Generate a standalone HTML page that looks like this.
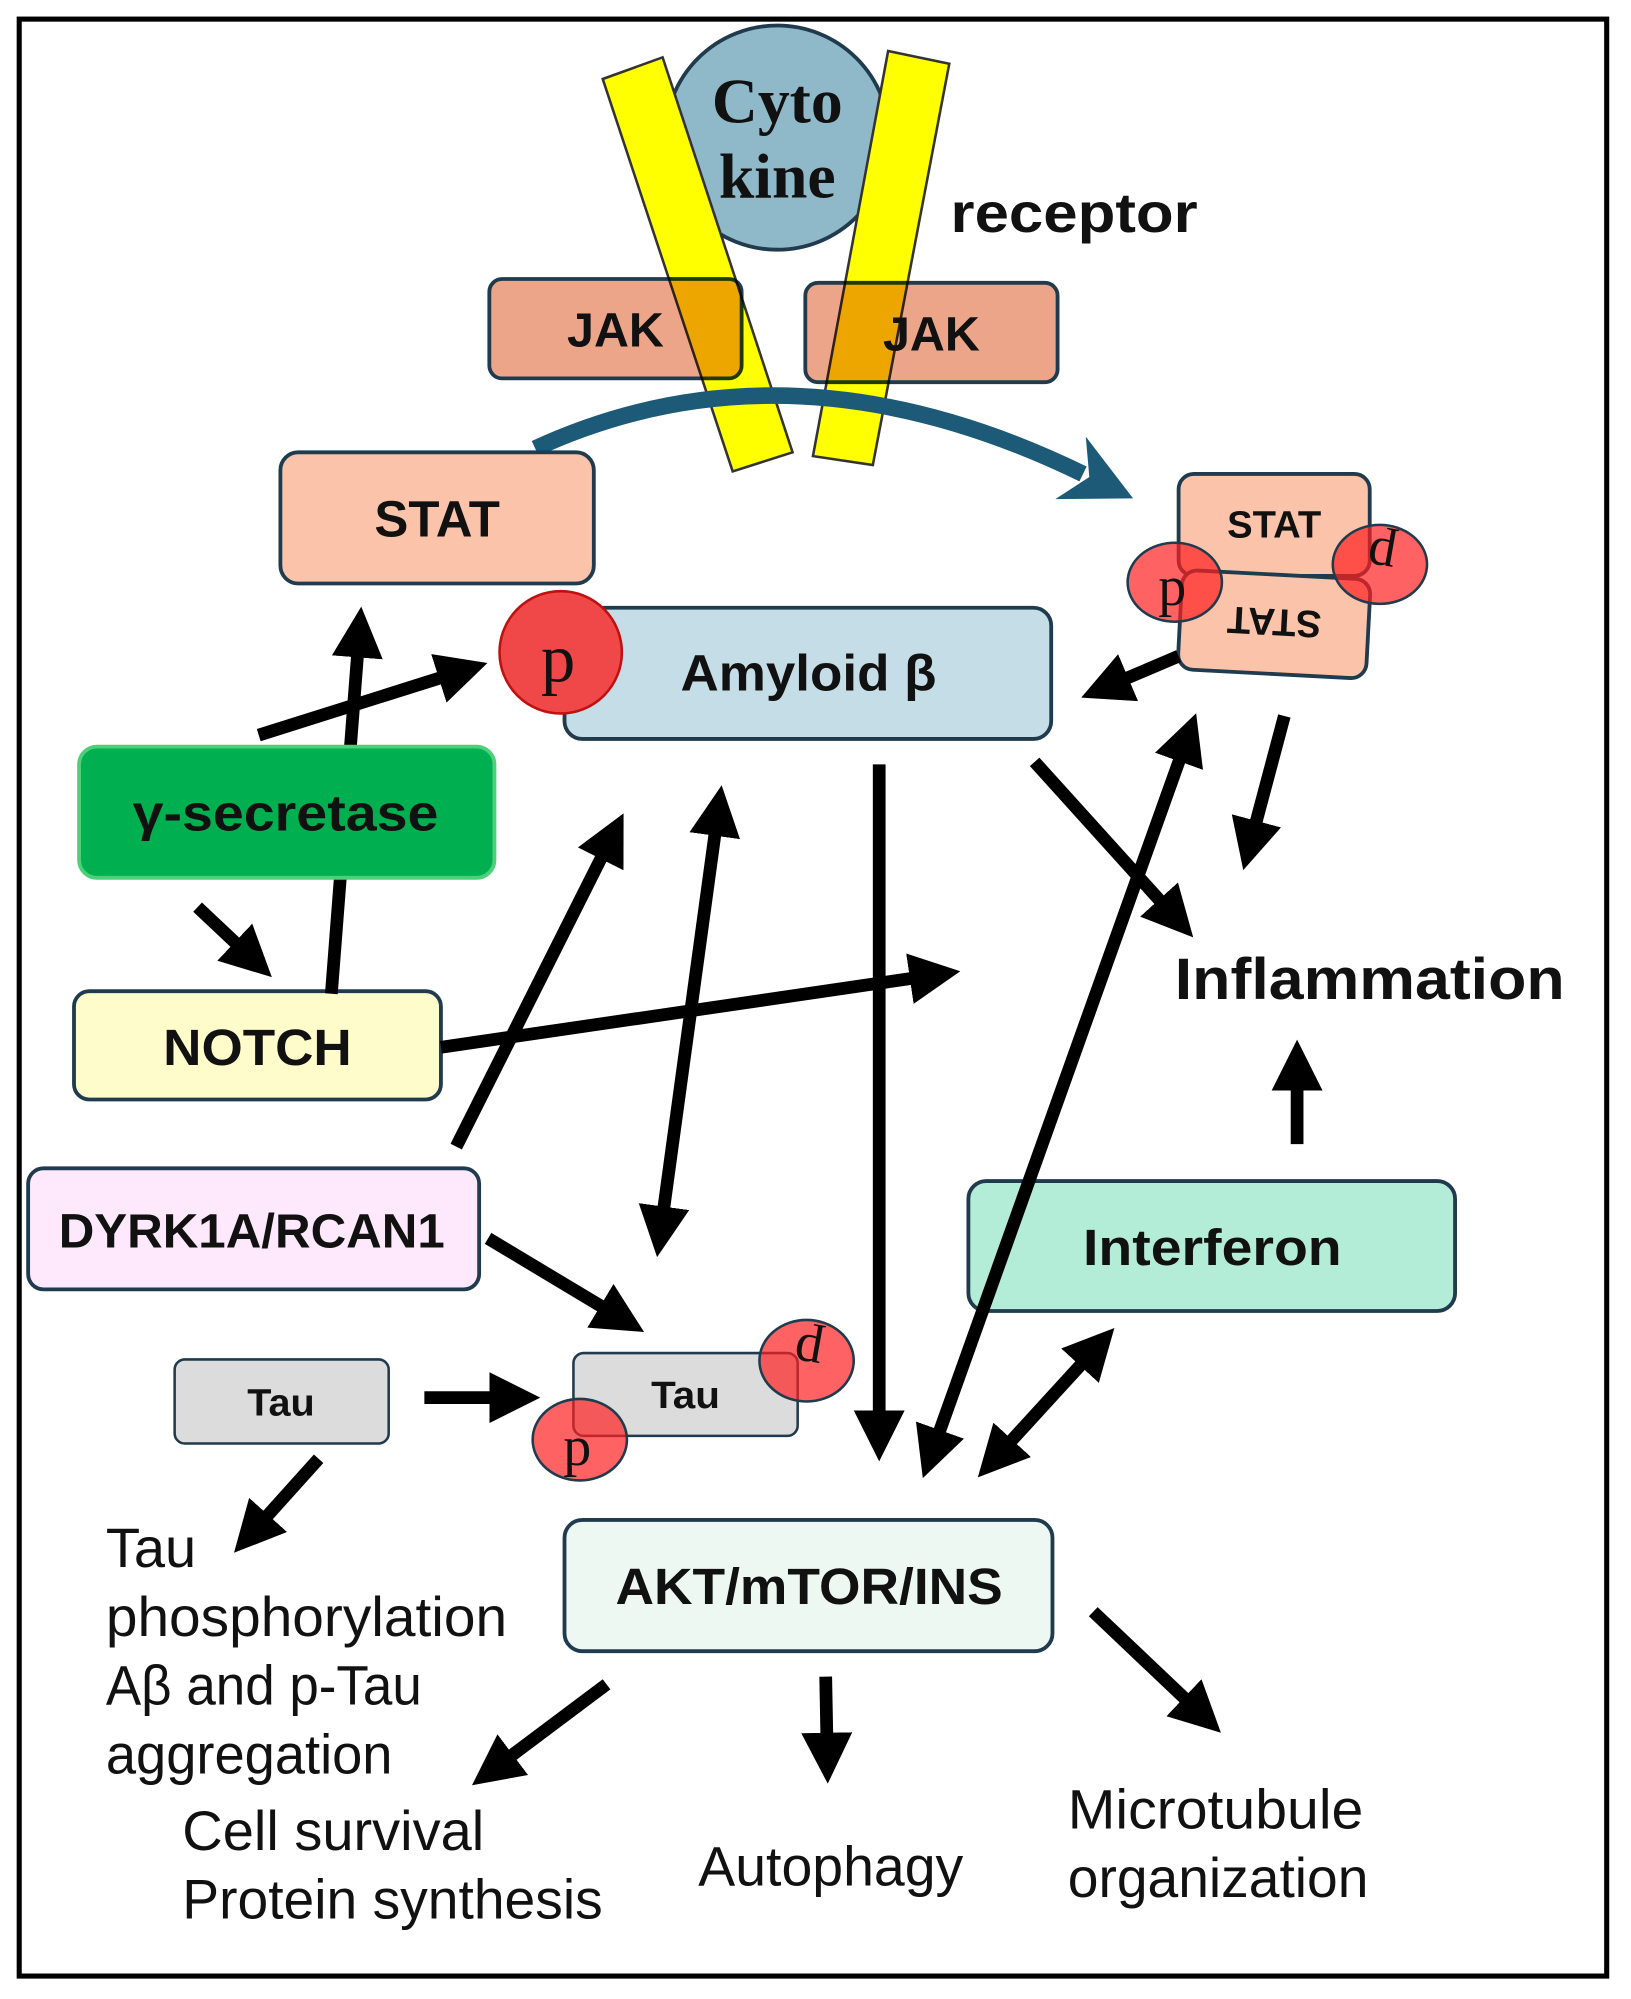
<!DOCTYPE html>
<html><head><meta charset="utf-8"><style>
html,body{margin:0;padding:0;background:#fff;}
svg{display:block;}
.b{font-family:"Liberation Sans",sans-serif;font-weight:bold;fill:#111;}
.r{font-family:"Liberation Sans",sans-serif;fill:#111;font-size:44px;}
.s{font-family:"Liberation Serif",serif;fill:#111;}
</style></head><body>
<svg width="1631" height="1999" viewBox="0 0 1280 1569" xmlns="http://www.w3.org/2000/svg">
<defs>
<marker id="ah" viewBox="0 0 10 10" refX="2" refY="5" markerWidth="4" markerHeight="4" orient="auto-start-reverse" markerUnits="strokeWidth">
<path d="M0,0 L10,5 L0,10 z" fill="#000"/></marker>
<marker id="bh" viewBox="0 0 10 10" refX="2" refY="5" markerWidth="4.2" markerHeight="5" orient="auto" markerUnits="strokeWidth">
<path d="M0,0 L10,5 L0,10 L3,5 z" fill="#1d5a78"/></marker>
</defs>
<rect x="0" y="0" width="1280" height="1569" fill="#fff"/>
<rect x="15" y="15" width="1246" height="1536" fill="none" stroke="#000" stroke-width="4"/>

<circle cx="610" cy="108" r="88" fill="#8fb9c9" stroke="#1f3b4d" stroke-width="3"/>
<polygon points="473,62 520,45 622,355 575,370" fill="#ffff00" stroke="#333" stroke-width="2"/>
<polygon points="697,40 745,50 685,365 638,358" fill="#ffff00" stroke="#333" stroke-width="2"/>
<text class="s" x="610" y="96" font-size="50" font-weight="bold" text-anchor="middle">Cyto</text>
<text class="s" x="610" y="155" font-size="50" font-weight="bold" text-anchor="middle">kine</text>
<text class="b" x="746" y="182" font-size="44" textLength="194" lengthAdjust="spacingAndGlyphs">receptor</text>

<g style="mix-blend-mode:multiply">
<rect x="384" y="219" width="198" height="78" rx="10" fill="#eda58a" stroke="#1f3b4d" stroke-width="3"/>
<rect x="632" y="222" width="198" height="78" rx="10" fill="#eda58a" stroke="#1f3b4d" stroke-width="3"/>
</g>
<text class="b" x="483" y="272" font-size="38" text-anchor="middle">JAK</text>
<text class="b" x="731" y="275" font-size="38" text-anchor="middle">JAK</text>

<path d="M420,352 Q620,260 850,372" fill="none" stroke="#1d5a78" stroke-width="13" marker-end="url(#bh)"/>

<rect x="220" y="355" width="246" height="103" rx="14" fill="#fbc4aa" stroke="#1f3b4d" stroke-width="3"/>
<text class="b" x="343" y="421" font-size="40" text-anchor="middle">STAT</text>

<rect x="925" y="372" width="150" height="80" rx="12" fill="#fbc4aa" stroke="#1f3b4d" stroke-width="3"/>
<text class="b" x="1000" y="422" font-size="30" text-anchor="middle">STAT</text>
<g transform="rotate(183 1000 490)">
<rect x="926" y="451" width="148" height="78" rx="12" fill="#fbc4aa" stroke="#1f3b4d" stroke-width="3"/>
<text class="b" x="1000" y="502" font-size="30" text-anchor="middle">STAT</text>
</g>
<ellipse cx="922" cy="457" rx="37" ry="31" fill="#ff2020" fill-opacity="0.7" stroke="#1f3b4d" stroke-width="2"/>
<text class="s" x="920" y="475" font-size="44" text-anchor="middle">p</text>
<ellipse cx="1083" cy="443" rx="37" ry="31" fill="#ff2020" fill-opacity="0.7" stroke="#1f3b4d" stroke-width="2"/>
<text class="s" x="1083" y="443" font-size="44" text-anchor="middle" transform="rotate(190 1083 443) translate(0 20)">p</text>

<rect x="443" y="477" width="382" height="103" rx="14" fill="#c5dde6" stroke="#1f3b4d" stroke-width="3"/>
<text class="b" x="534" y="542" font-size="40" textLength="201" lengthAdjust="spacingAndGlyphs">Amyloid β</text>
<circle cx="440" cy="512" r="48" fill="#f04848" stroke="#c01010" stroke-width="2"/>
<text class="s" x="438" y="535" font-size="54" text-anchor="middle">p</text>

<rect x="58" y="778" width="288" height="85" rx="12" fill="#fffccc" stroke="#1f3b4d" stroke-width="3"/>
<text class="b" x="128" y="836" font-size="40" textLength="148" lengthAdjust="spacingAndGlyphs">NOTCH</text>

<rect x="22" y="917" width="354" height="95" rx="12" fill="#fde9fb" stroke="#1f3b4d" stroke-width="3"/>
<text class="b" x="46" y="979" font-size="38" textLength="303" lengthAdjust="spacingAndGlyphs">DYRK1A/RCAN1</text>

<rect x="760" y="927" width="382" height="102" rx="14" fill="#b3ecd7" stroke="#1f3b4d" stroke-width="3"/>
<text class="b" x="850" y="993" font-size="40" textLength="203" lengthAdjust="spacingAndGlyphs">Interferon</text>

<text class="b" x="922" y="784" font-size="46" textLength="306" lengthAdjust="spacingAndGlyphs">Inflammation</text>

<rect x="137" y="1067" width="168" height="66" rx="8" fill="#dcdcdc" stroke="#1f3b4d" stroke-width="2"/>
<text class="b" x="194" y="1111" font-size="30" textLength="53" lengthAdjust="spacingAndGlyphs">Tau</text>
<rect x="450" y="1062" width="176" height="65" rx="8" fill="#dcdcdc" stroke="#1f3b4d" stroke-width="2"/>
<text class="b" x="511" y="1105" font-size="30" textLength="54" lengthAdjust="spacingAndGlyphs">Tau</text>
<ellipse cx="455" cy="1130" rx="37" ry="32" fill="#ff2020" fill-opacity="0.7" stroke="#1f3b4d" stroke-width="2"/>
<text class="s" x="453" y="1150" font-size="44" text-anchor="middle">p</text>
<ellipse cx="633" cy="1068" rx="37" ry="32" fill="#ff2020" fill-opacity="0.7" stroke="#1f3b4d" stroke-width="2"/>
<text class="s" x="633" y="1068" font-size="44" text-anchor="middle" transform="rotate(190 633 1068) translate(0 20)">p</text>

<rect x="443" y="1193" width="383" height="103" rx="14" fill="#edf8f3" stroke="#1f3b4d" stroke-width="3"/>
<text class="b" x="483" y="1259" font-size="40" textLength="304" lengthAdjust="spacingAndGlyphs">AKT/mTOR/INS</text>

<text class="r" x="83" y="1230">Tau</text>
<text class="r" x="83" y="1284" textLength="315" lengthAdjust="spacingAndGlyphs">phosphorylation</text>
<text class="r" x="83" y="1338" textLength="248" lengthAdjust="spacingAndGlyphs">Aβ and p-Tau</text>
<text class="r" x="83" y="1392" textLength="225" lengthAdjust="spacingAndGlyphs">aggregation</text>
<text class="r" x="143" y="1452" textLength="237" lengthAdjust="spacingAndGlyphs">Cell survival</text>
<text class="r" x="143" y="1506" textLength="330" lengthAdjust="spacingAndGlyphs">Protein synthesis</text>
<text class="r" x="548" y="1480" textLength="208" lengthAdjust="spacingAndGlyphs">Autophagy</text>
<text class="r" x="838" y="1435" textLength="232" lengthAdjust="spacingAndGlyphs">Microtubule</text>
<text class="r" x="838" y="1489" textLength="236" lengthAdjust="spacingAndGlyphs">organization</text>

<g stroke="#000" stroke-width="10" fill="none">
<line x1="260" y1="780" x2="281" y2="508" marker-end="url(#ah)"/>
<line x1="203" y1="577" x2="352" y2="530" marker-end="url(#ah)"/>
<line x1="155" y1="712" x2="190" y2="745" marker-end="url(#ah)"/>
<line x1="346" y1="822" x2="722" y2="767" marker-end="url(#ah)"/>
<line x1="358" y1="900" x2="475" y2="667" marker-end="url(#ah)"/>
<line x1="562" y1="648" x2="520" y2="955" marker-start="url(#ah)" marker-end="url(#ah)"/>
<line x1="383" y1="972" x2="478" y2="1029" marker-end="url(#ah)"/>
<line x1="333" y1="1097" x2="392" y2="1097" marker-end="url(#ah)"/>
<line x1="250" y1="1145" x2="205" y2="1195" marker-end="url(#ah)"/>
<line x1="690" y1="600" x2="690" y2="1115" marker-end="url(#ah)"/>
<line x1="928" y1="590" x2="735" y2="1130" marker-start="url(#ah)" marker-end="url(#ah)"/>
<line x1="925" y1="515" x2="878" y2="535" marker-end="url(#ah)"/>
<line x1="1008" y1="562" x2="984" y2="652" marker-end="url(#ah)"/>
<line x1="812" y1="598" x2="915" y2="712" marker-end="url(#ah)"/>
<line x1="853" y1="1066" x2="789" y2="1136" marker-start="url(#ah)" marker-end="url(#ah)"/>
<line x1="1018" y1="898" x2="1018" y2="848" marker-end="url(#ah)"/>
<line x1="476" y1="1322" x2="396" y2="1382" marker-end="url(#ah)"/>
<line x1="648" y1="1316" x2="649" y2="1368" marker-end="url(#ah)"/>
<line x1="858" y1="1265" x2="935" y2="1338" marker-end="url(#ah)"/>
</g>

<rect x="62" y="586" width="326" height="103" rx="14" fill="#00b050" stroke="#4ed07a" stroke-width="3"/>
<text class="b" x="104" y="652" font-size="40" textLength="240" lengthAdjust="spacingAndGlyphs">γ-secretase</text>
</svg>
</body></html>
